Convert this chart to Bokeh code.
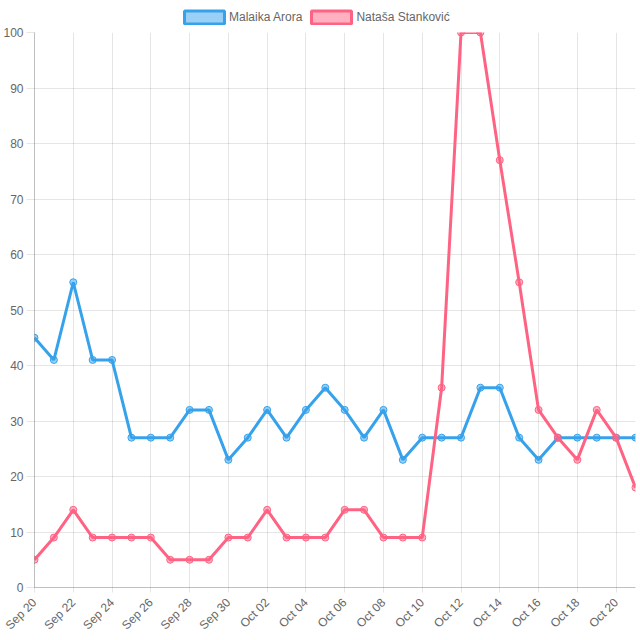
from bokeh.plotting import figure
from bokeh.layouts import column
from bokeh.models import Range1d, FixedTicker, Legend, LegendItem, ColumnDataSource
from bokeh.embed import file_html
from bokeh.resources import INLINE
import math

dates = ["Sep 20", "Sep 21", "Sep 22", "Sep 23", "Sep 24", "Sep 25", "Sep 26", "Sep 27",
         "Sep 28", "Sep 29", "Sep 30", "Oct 01", "Oct 02", "Oct 03", "Oct 04", "Oct 05",
         "Oct 06", "Oct 07", "Oct 08", "Oct 09", "Oct 10", "Oct 11", "Oct 12", "Oct 13",
         "Oct 14", "Oct 15", "Oct 16", "Oct 17", "Oct 18", "Oct 19", "Oct 20", "Oct 21"]
malaika = [45, 41, 55, 41, 41, 27, 27, 27, 32, 32, 23, 27, 32, 27, 32, 36,
           32, 27, 32, 23, 27, 27, 27, 36, 36, 27, 23, 27, 27, 27, 27, 27]
natasa = [5, 9, 14, 9, 9, 9, 9, 5, 5, 5, 9, 9, 14, 9, 9, 9,
          14, 14, 9, 9, 9, 36, 100, 100, 77, 55, 32, 27, 23, 32, 27, 18]
series_names = ["Malaika Arora", "Nataša Stanković"]
y_ticks = [0, 10, 20, 30, 40, 50, 60, 70, 80, 90, 100]

FONT = "Liberation Sans"
BLUE = "rgb(54,162,235)"
PINK = "rgb(255,99,132)"
BLUE_L = "rgba(54,162,235,0.5)"
PINK_L = "rgba(255,99,132,0.5)"
GRID = "rgba(0,0,0,0.1)"

x = list(range(len(dates)))

# ---- legend strip (separate small figure above the chart) ----
lf = figure(width=640, height=26, output_backend="svg", toolbar_location=None,
            x_range=Range1d(0, 1), y_range=Range1d(0, 1),
            min_border=0, min_border_left=0, min_border_right=0,
            min_border_top=0, min_border_bottom=0)
lf.axis.visible = False
lf.grid.visible = False
lf.outline_line_color = None
lf.background_fill_color = "white"
lf.border_fill_color = "white"

nan = float("nan")
lb = lf.quad(left=[nan], right=[nan], top=[nan], bottom=[nan],
             fill_color=BLUE_L, line_color=BLUE, line_width=3)
lp = lf.quad(left=[nan], right=[nan], top=[nan], bottom=[nan],
             fill_color=PINK_L, line_color=PINK, line_width=3)
legend = Legend(items=[LegendItem(label=series_names[0], renderers=[lb]),
                       LegendItem(label=series_names[1], renderers=[lp])],
                orientation="horizontal", location=(145, 1.5),
                glyph_width=50, glyph_height=16, label_height=16,
                label_standoff=0, spacing=4, padding=0, margin=0,
                label_text_font=FONT, label_text_font_size="12px",
                label_text_color="#666666", border_line_color=None,
                background_fill_alpha=0)
lf.add_layout(legend, "center")

# ---- main chart ----
p = figure(width=640, height=614, output_backend="svg", toolbar_location=None,
           x_range=Range1d(0, len(dates) - 1), y_range=Range1d(0, 100),
           min_border_left=34, min_border_right=5, min_border_top=6, min_border_bottom=53)
p.outline_line_color = None
p.background_fill_color = "white"
p.border_fill_color = "white"

tick_idx = x[::2]
p.xaxis.ticker = FixedTicker(ticks=tick_idx)
p.xaxis.major_label_overrides = {i: dates[i] for i in tick_idx}
p.xaxis.major_label_orientation = math.pi / 4
p.yaxis.ticker = FixedTicker(ticks=y_ticks)

for ax in (p.xaxis, p.yaxis):
    ax.major_label_text_font = FONT
    ax.major_label_text_font_size = "12px"
    ax.major_label_text_color = "#666666"
    ax.minor_tick_line_color = None
    ax.major_tick_line_color = GRID
    ax.major_tick_in = 0
    ax.axis_line_color = "rgba(0,0,0,0.25)"
p.xaxis.major_tick_out = 5
p.xaxis.major_label_standoff = 8
p.yaxis.major_tick_out = 8
p.yaxis.major_label_standoff = 3

p.xgrid.grid_line_color = GRID
p.ygrid.grid_line_color = GRID

src = ColumnDataSource(dict(x=x, m=malaika, n=natasa))

p.line("x", "m", source=src, line_color=BLUE, line_width=3)
p.scatter("x", "m", source=src, size=7, fill_color=BLUE_L, line_color=BLUE, line_width=1)
p.line("x", "n", source=src, line_color=PINK, line_width=3)
p.scatter("x", "n", source=src, size=7, fill_color=PINK_L, line_color=PINK, line_width=1)

layout = column(lf, p, spacing=0)
open("out.html", "w").write(file_html(layout, INLINE))
